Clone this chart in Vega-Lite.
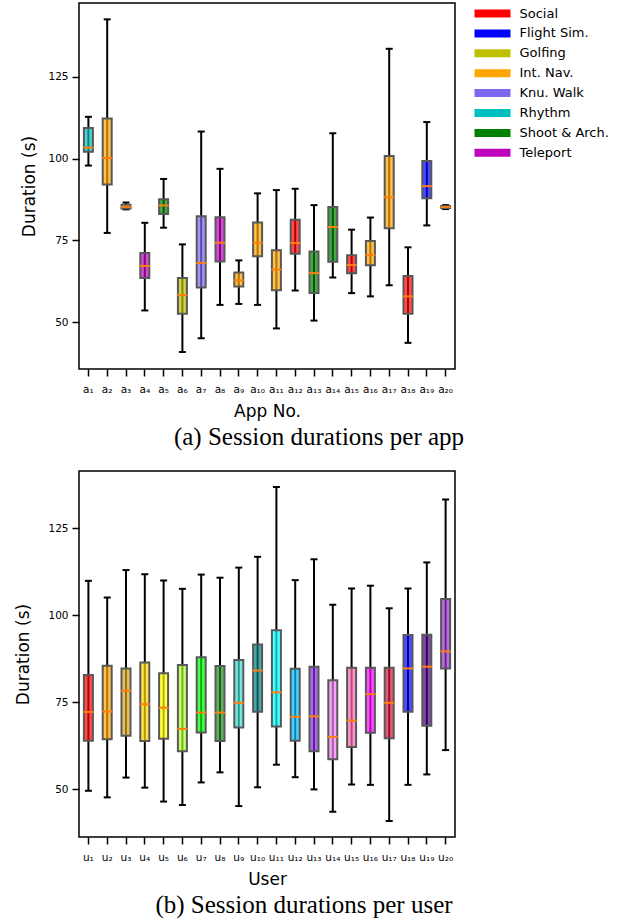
{
  "$schema": "https://vega.github.io/schema/vega-lite/v6.json",
  "padding": {"left": 14, "top": 2, "right": 0, "bottom": 0},
  "background": "white",
  "spacing": 19,
  "align": "none",
  "config": {
    "view": {"stroke": "black", "strokeWidth": 1.5},
    "font": "DejaVu Sans",
    "axis": {"grid": false, "domain": false, "tickColor": "black", "tickWidth": 1.5, "tickSize": 7, "labelColor": "black", "labelFontSize": 10.5, "labelFont": "DejaVu Sans", "titleFont": "DejaVu Sans", "titleFontSize": 17, "titleFontWeight": "normal", "titleColor": "black", "labelPadding": 4}
  },
  "datasets": {
    "apps": [
      {"app": "a₁", "cat": "Rhythm", "lo": 97.9, "q1": 102.1, "med": 103.4, "q3": 109.4, "hi": 112.8},
      {"app": "a₂", "cat": "Int. Nav.", "lo": 77.3, "q1": 92.1, "med": 100.2, "q3": 112.3, "hi": 142.6},
      {"app": "a₃", "cat": "Golfing", "lo": 84.5, "q1": 84.8, "med": 85.3, "q3": 85.9, "hi": 86.6},
      {"app": "a₄", "cat": "Teleport", "lo": 53.6, "q1": 63.5, "med": 67.2, "q3": 71.2, "hi": 80.4},
      {"app": "a₅", "cat": "Shoot & Arch.", "lo": 78.9, "q1": 83.1, "med": 85.7, "q3": 87.6, "hi": 93.8},
      {"app": "a₆", "cat": "Golfing", "lo": 40.9, "q1": 52.6, "med": 58.3, "q3": 63.5, "hi": 73.8},
      {"app": "a₇", "cat": "Knu. Walk", "lo": 45.1, "q1": 60.6, "med": 68.1, "q3": 82.4, "hi": 108.3},
      {"app": "a₈", "cat": "Teleport", "lo": 55.3, "q1": 68.6, "med": 74.3, "q3": 82.1, "hi": 96.9},
      {"app": "a₉", "cat": "Int. Nav.", "lo": 55.6, "q1": 60.9, "med": 62.8, "q3": 65.2, "hi": 68.9},
      {"app": "a₁₀", "cat": "Int. Nav.", "lo": 55.3, "q1": 70.2, "med": 74.3, "q3": 80.5, "hi": 89.4},
      {"app": "a₁₁", "cat": "Int. Nav.", "lo": 48.1, "q1": 59.8, "med": 66.1, "q3": 72.0, "hi": 90.4},
      {"app": "a₁₂", "cat": "Social", "lo": 59.7, "q1": 70.9, "med": 74.2, "q3": 81.3, "hi": 90.8},
      {"app": "a₁₃", "cat": "Shoot & Arch.", "lo": 50.5, "q1": 58.9, "med": 65.0, "q3": 71.6, "hi": 85.8},
      {"app": "a₁₄", "cat": "Shoot & Arch.", "lo": 63.7, "q1": 68.5, "med": 79.1, "q3": 85.2, "hi": 107.8},
      {"app": "a₁₅", "cat": "Social", "lo": 58.9, "q1": 65.0, "med": 67.5, "q3": 70.5, "hi": 78.3},
      {"app": "a₁₆", "cat": "Int. Nav.", "lo": 57.9, "q1": 67.4, "med": 70.5, "q3": 74.8, "hi": 82.0},
      {"app": "a₁₇", "cat": "Int. Nav.", "lo": 61.3, "q1": 78.7, "med": 88.2, "q3": 100.8, "hi": 133.6},
      {"app": "a₁₈", "cat": "Social", "lo": 43.7, "q1": 52.6, "med": 57.9, "q3": 64.1, "hi": 72.9},
      {"app": "a₁₉", "cat": "Flight Sim.", "lo": 79.6, "q1": 87.9, "med": 91.6, "q3": 99.3, "hi": 111.2},
      {"app": "a₂₀", "cat": "Flight Sim.", "lo": 84.6, "q1": 84.9, "med": 85.2, "q3": 85.5, "hi": 85.8}
    ],
    "users": [
      {"user": "u₁", "lo": 49.5, "q1": 63.9, "med": 72.2, "q3": 82.8, "hi": 109.9},
      {"user": "u₂", "lo": 47.6, "q1": 64.3, "med": 72.3, "q3": 85.5, "hi": 105.1},
      {"user": "u₃", "lo": 53.3, "q1": 65.3, "med": 78.3, "q3": 84.7, "hi": 113.0},
      {"user": "u₄", "lo": 50.4, "q1": 63.8, "med": 74.4, "q3": 86.4, "hi": 111.8},
      {"user": "u₅", "lo": 46.4, "q1": 64.5, "med": 73.4, "q3": 83.3, "hi": 110.0},
      {"user": "u₆", "lo": 45.4, "q1": 60.9, "med": 67.3, "q3": 85.7, "hi": 107.6},
      {"user": "u₇", "lo": 51.9, "q1": 66.3, "med": 72.0, "q3": 87.9, "hi": 111.7},
      {"user": "u₈", "lo": 54.8, "q1": 63.8, "med": 72.0, "q3": 85.4, "hi": 110.8},
      {"user": "u₉", "lo": 45.1, "q1": 67.7, "med": 74.8, "q3": 87.1, "hi": 113.7},
      {"user": "u₁₀", "lo": 50.5, "q1": 72.2, "med": 84.1, "q3": 91.6, "hi": 116.8},
      {"user": "u₁₁", "lo": 57.0, "q1": 68.0, "med": 77.8, "q3": 95.7, "hi": 136.9},
      {"user": "u₁₂", "lo": 53.4, "q1": 63.9, "med": 70.8, "q3": 84.6, "hi": 110.1},
      {"user": "u₁₃", "lo": 49.9, "q1": 60.9, "med": 70.9, "q3": 85.2, "hi": 116.1},
      {"user": "u₁₄", "lo": 43.5, "q1": 58.6, "med": 65.0, "q3": 81.3, "hi": 103.0},
      {"user": "u₁₅", "lo": 51.3, "q1": 62.1, "med": 69.7, "q3": 84.9, "hi": 107.7},
      {"user": "u₁₆", "lo": 51.2, "q1": 66.2, "med": 77.3, "q3": 84.9, "hi": 108.5},
      {"user": "u₁₇", "lo": 40.8, "q1": 64.6, "med": 74.8, "q3": 84.9, "hi": 102.0},
      {"user": "u₁₈", "lo": 51.2, "q1": 72.2, "med": 84.7, "q3": 94.3, "hi": 107.7},
      {"user": "u₁₉", "lo": 54.2, "q1": 68.2, "med": 85.2, "q3": 94.4, "hi": 115.2},
      {"user": "u₂₀", "lo": 61.2, "q1": 84.7, "med": 89.6, "q3": 104.7, "hi": 133.3}
    ]
  },
  "resolve": {"scale": {"color": "independent", "x": "independent", "y": "independent"}},
  "vconcat": [
    {
      "width": 376,
      "height": 366,
      "data": {"name": "apps"},
      "title": {"text": "(a) Session durations per app", "orient": "bottom", "anchor": "middle", "frame": "group", "dx": 52, "font": "Liberation Serif", "fontSize": 25, "fontWeight": "normal", "color": "black", "offset": 5},
      "encoding": {
        "x": {"field": "app", "type": "nominal", "sort": null, "title": "App No.", "scale": {"paddingInner": 0, "paddingOuter": 0}, "axis": {"labelAngle": 0, "labelPadding": 8, "titlePadding": 9}}
      },
      "layer": [
        {"mark": {"type": "rule", "color": "black", "strokeWidth": 2},
         "encoding": {"y": {"field": "lo", "type": "quantitative", "title": "Duration (s)", "scale": {"domain": [35.7, 147.6], "nice": false, "zero": false}, "axis": {"values": [50, 75, 100, 125], "titlePadding": 9}}, "y2": {"field": "hi"}}},
        {"mark": {"type": "tick", "color": "black", "size": 7, "thickness": 2, "opacity": 1},
         "encoding": {"y": {"field": "lo", "type": "quantitative", "title": "Duration (s)"}}},
        {"mark": {"type": "tick", "color": "black", "size": 7, "thickness": 2, "opacity": 1},
         "encoding": {"y": {"field": "hi", "type": "quantitative", "title": "Duration (s)"}}},
        {"mark": {"type": "bar", "size": 9, "stroke": "#585858", "strokeWidth": 2, "fillOpacity": 0.7},
         "encoding": {
           "y": {"field": "q1", "type": "quantitative", "title": "Duration (s)"},
           "y2": {"field": "q3"},
           "color": {"field": "cat", "type": "nominal",
             "scale": {"domain": ["Social", "Flight Sim.", "Golfing", "Int. Nav.", "Knu. Walk", "Rhythm", "Shoot & Arch.", "Teleport"], "range": ["#ff0000", "#0000ff", "#bfbf00", "#ffa500", "#7b68ee", "#00bfbf", "#008000", "#bf00bf"]},
             "legend": {"title": null, "orient": "none", "legendX": 407, "legendY": 4, "symbolType": "M-4.5,-1H4.5V1H-4.5Z", "symbolSize": 64, "symbolStrokeWidth": 0, "symbolOpacity": 1, "labelFontSize": 13, "labelFont": "DejaVu Sans", "labelColor": "black", "labelOffset": 20.5, "rowPadding": 5.9, "padding": 0,
               "encode": {"symbols": {"update": {"fillOpacity": {"value": 1}, "opacity": {"value": 1}, "strokeWidth": {"value": 0}}}}}
           }
         }},
        {"mark": {"type": "tick", "color": "#ff7f0e", "size": 10, "thickness": 2, "opacity": 1},
         "encoding": {"y": {"field": "med", "type": "quantitative", "title": "Duration (s)"}}}
      ]
    },
    {
      "width": 376,
      "height": 366,
      "data": {"name": "users"},
      "title": {"text": "(b) Session durations per user", "orient": "bottom", "anchor": "middle", "frame": "group", "dx": 37, "font": "Liberation Serif", "fontSize": 25, "fontWeight": "normal", "color": "black", "offset": 5},
      "encoding": {
        "x": {"field": "user", "type": "nominal", "sort": null, "title": "User", "scale": {"paddingInner": 0, "paddingOuter": 0}, "axis": {"labelAngle": 0, "labelPadding": 8, "titlePadding": 9}}
      },
      "layer": [
        {"mark": {"type": "rule", "color": "black", "strokeWidth": 2},
         "encoding": {"y": {"field": "lo", "type": "quantitative", "title": "Duration (s)", "scale": {"domain": [36.2, 141.5], "nice": false, "zero": false}, "axis": {"values": [50, 75, 100, 125], "titlePadding": 15}}, "y2": {"field": "hi"}}},
        {"mark": {"type": "tick", "color": "black", "size": 7, "thickness": 2, "opacity": 1},
         "encoding": {"y": {"field": "lo", "type": "quantitative", "title": "Duration (s)"}}},
        {"mark": {"type": "tick", "color": "black", "size": 7, "thickness": 2, "opacity": 1},
         "encoding": {"y": {"field": "hi", "type": "quantitative", "title": "Duration (s)"}}},
        {"mark": {"type": "bar", "size": 9, "stroke": "#585858", "strokeWidth": 2, "fillOpacity": 0.7},
         "encoding": {
           "y": {"field": "q1", "type": "quantitative", "title": "Duration (s)"},
           "y2": {"field": "q3"},
           "color": {"field": "user", "type": "nominal", "sort": null, "legend": null,
             "scale": {"domain": ["u₁", "u₂", "u₃", "u₄", "u₅", "u₆", "u₇", "u₈", "u₉", "u₁₀", "u₁₁", "u₁₂", "u₁₃", "u₁₄", "u₁₅", "u₁₆", "u₁₇", "u₁₈", "u₁₉", "u₂₀"],
               "range": ["#ff0000", "#ffa500", "#daa520", "#ffd700", "#ffff00", "#adff2f", "#00ff00", "#228b22", "#40e0d0", "#008080", "#00ffff", "#00bfff", "#8a2be2", "#ee82ee", "#ff69b4", "#ff00ff", "#dc143c", "#0000ff", "#4b0082", "#9932cc"]}}
         }},
        {"mark": {"type": "tick", "color": "#ff7f0e", "size": 10, "thickness": 2, "opacity": 1},
         "encoding": {"y": {"field": "med", "type": "quantitative", "title": "Duration (s)"}}}
      ]
    }
  ]
}
